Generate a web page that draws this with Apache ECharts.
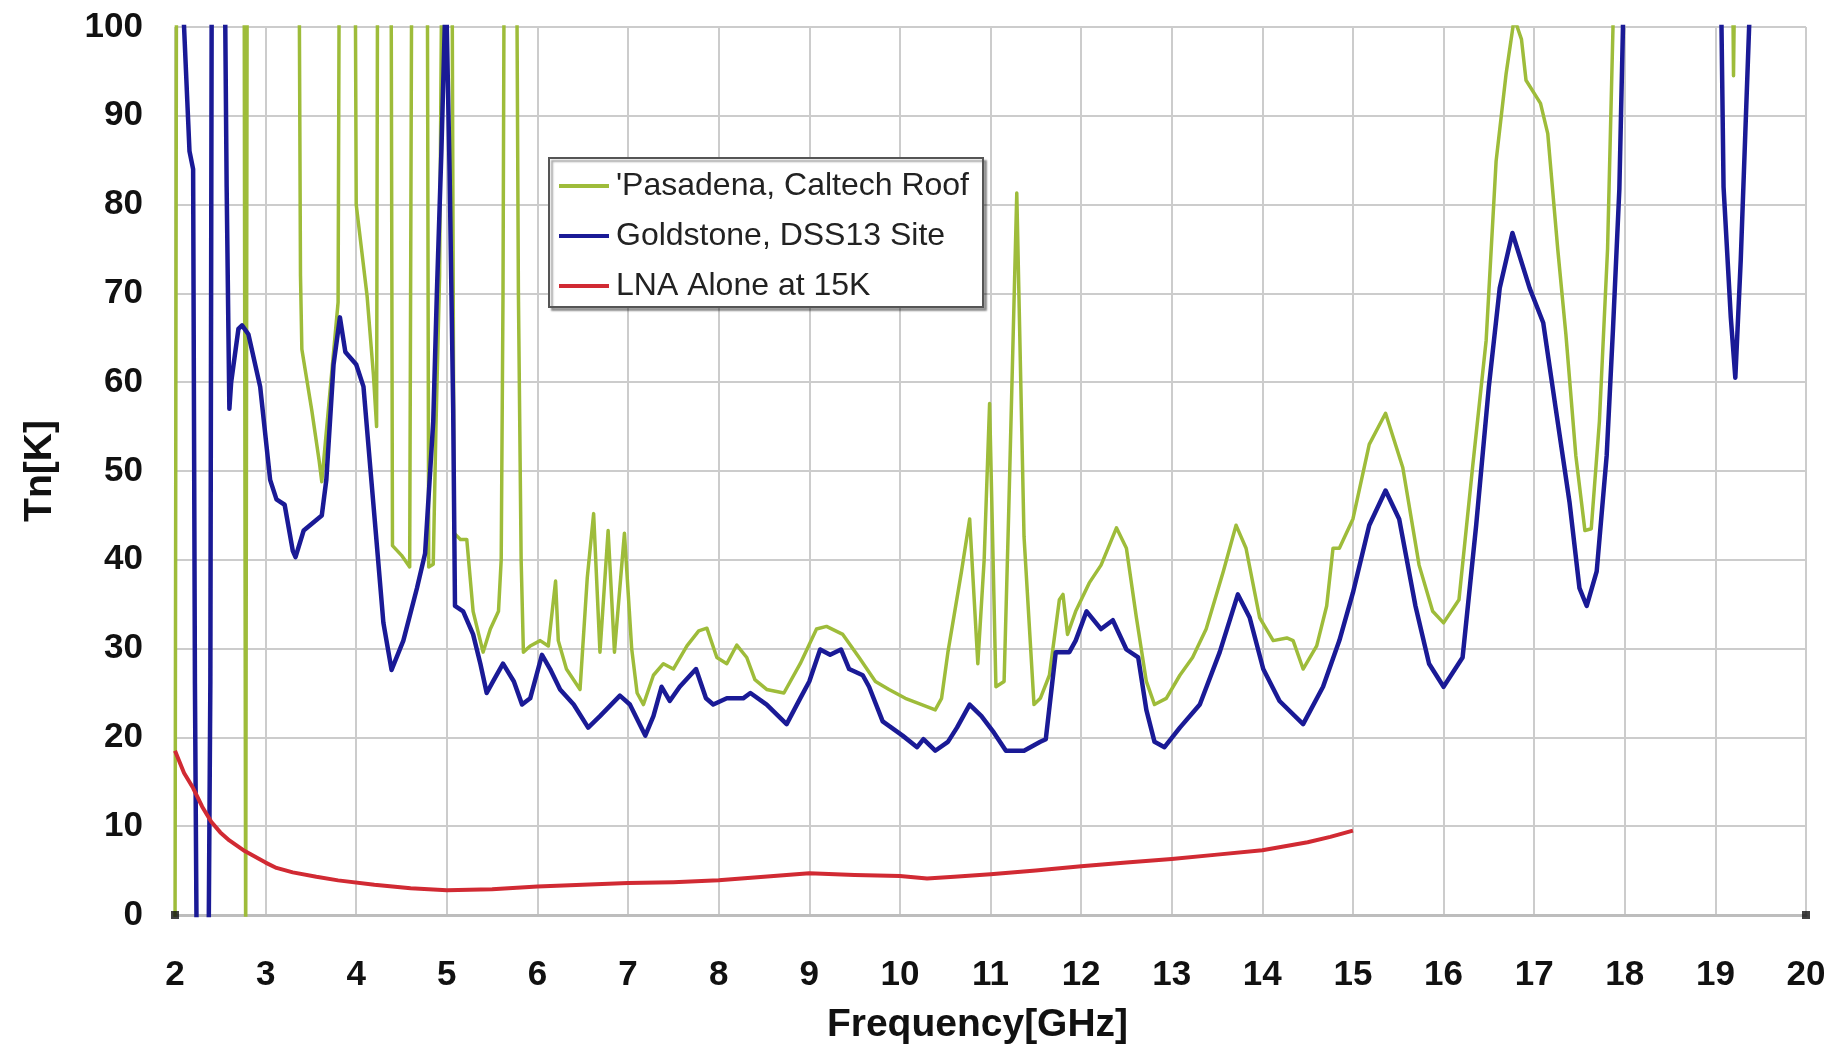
<!DOCTYPE html>
<html>
<head>
<meta charset="utf-8">
<script src="https://cdn.jsdelivr.net/npm/echarts@6/dist/echarts.min.js"></script>
<style>
  html, body { margin: 0; padding: 0; background: #ffffff; }
  #chart { width: 1833px; height: 1045px; }
</style>
</head>
<body>
<div id="chart"></div>
<script>
// Frequency in GHz, noise temperature Tn in K (values > 100 or < 0 are off-scale in the original)
const seriesNames = ["'Pasadena, Caltech Roof", "Goldstone, DSS13 Site", "LNA Alone at 15K"];

const pasadena = [
  [2.00,-5],[2.02,130],[2.76,130],[2.78,-5],[2.80,130],
  [3.36,130],[3.385,72],[3.40,63.7],[3.51,56.8],[3.59,51.2],[3.62,48.8],[3.72,60],[3.80,69],[3.82,130],
  [3.98,130],[4.00,80],[4.12,69.7],[4.19,60.8],[4.225,55],[4.24,130],
  [4.38,130],[4.40,41.6],[4.50,40.5],[4.59,39.2],[4.62,130],
  [4.78,130],[4.80,39.2],[4.85,39.5],[4.88,55],[4.92,72],[4.96,130],
  [5.05,130],[5.08,43],[5.15,42.3],[5.22,42.3],[5.29,34.2],[5.40,29.6],[5.48,32.2],[5.57,34.2],[5.60,40],[5.62,70],[5.64,130],
  [5.76,130],[5.79,70],[5.82,40],[5.845,29.6],[5.92,30.3],[6.03,30.9],[6.12,30.3],[6.20,37.6],[6.23,30.9],[6.32,27.7],
  [6.47,25.4],[6.55,38],[6.62,45.2],[6.69,29.6],[6.78,43.3],[6.85,29.6],[6.96,43],[7.04,30],[7.10,25],[7.17,23.7],
  [7.28,27],[7.39,28.3],[7.50,27.7],[7.65,30.3],[7.78,32],[7.87,32.3],[7.98,29],[8.09,28.3],[8.20,30.4],[8.31,29],
  [8.40,26.5],[8.53,25.4],[8.72,25],[8.90,28.3],[9.08,32.2],[9.19,32.5],[9.37,31.6],[9.55,29],[9.73,26.3],[9.88,25.4],
  [10.06,24.4],[10.24,23.7],[10.39,23.1],[10.46,24.4],[10.53,29.6],[10.68,38.7],[10.77,44.6],[10.86,28.3],[10.93,40],
  [10.99,57.6],[11.06,25.7],[11.15,26.3],[11.20,45],[11.29,81.3],[11.37,42.6],[11.48,23.7],[11.55,24.4],[11.65,27],
  [11.76,35.5],[11.80,36.1],[11.85,31.6],[11.94,34.2],[12.09,37.4],[12.22,39.4],[12.39,43.6],[12.50,41.3],[12.61,33.5],
  [12.72,26.3],[12.81,23.7],[12.94,24.4],[13.09,27],[13.23,29],[13.38,32.2],[13.57,38.7],[13.71,43.9],[13.82,41.3],
  [13.97,33.5],[14.12,30.9],[14.27,31.2],[14.34,30.9],[14.45,27.7],[14.60,30.3],[14.71,34.8],[14.78,41.3],[14.85,41.3],
  [15.00,44.6],[15.18,53],[15.36,56.5],[15.55,50.4],[15.73,39.4],[15.88,34.2],[16.00,32.9],[16.17,35.5],[16.32,50.4],
  [16.47,64.7],[16.58,84.9],[16.69,94.7],[16.78,101],[16.86,98.6],[16.91,94],[17.07,91.4],[17.15,88],[17.26,75],
  [17.35,65.4],[17.46,51.7],[17.56,43.3],[17.63,43.5],[17.72,55.6],[17.81,75],[17.87,100],[17.90,130],
  [19.17,130],[19.20,94.5],[19.24,130],[20.00,130]
];

const goldstone = [
  [2.00,130],[2.10,100],[2.16,86],[2.20,84],[2.22,26],[2.24,-5],[2.37,-5],[2.39,26],[2.41,130],
  [2.53,130],[2.57,82],[2.60,57],[2.62,60],[2.70,66],[2.74,66.4],[2.81,65.4],[2.94,59.5],[3.05,49],[3.12,46.8],
  [3.21,46.2],[3.30,41],[3.33,40.3],[3.42,43.3],[3.62,45],[3.67,49],[3.75,62],[3.82,67.3],[3.88,63.4],[4.00,62],
  [4.08,59.5],[4.15,51],[4.22,42.6],[4.30,32.9],[4.39,27.6],[4.52,30.9],[4.67,36.8],[4.76,40.7],[4.85,55.6],
  [4.89,70],[4.94,86],[4.99,105],[5.03,84],[5.07,57],[5.09,34.8],[5.18,34.2],[5.29,31.6],[5.37,28.3],[5.44,25],
  [5.51,26.3],[5.62,28.3],[5.74,26.3],[5.83,23.7],[5.92,24.4],[6.05,29.3],[6.14,27.7],[6.25,25.4],[6.40,23.7],
  [6.56,21.1],[6.69,22.4],[6.91,24.7],[7.02,23.7],[7.19,20.2],[7.28,22.4],[7.37,25.7],[7.46,24.1],[7.57,25.7],
  [7.75,27.7],[7.86,24.4],[7.94,23.7],[8.09,24.4],[8.27,24.4],[8.35,25],[8.53,23.7],[8.75,21.5],[8.90,24.4],
  [9.00,26.3],[9.12,29.9],[9.23,29.3],[9.35,29.9],[9.44,27.7],[9.59,27],[9.66,25.7],[9.81,21.8],[10.03,20.2],
  [10.19,18.9],[10.26,19.8],[10.39,18.5],[10.53,19.5],[10.63,21.1],[10.77,23.7],[10.90,22.4],[11.04,20.5],
  [11.17,18.5],[11.37,18.5],[11.55,19.5],[11.61,19.8],[11.72,29.6],[11.87,29.6],[11.94,30.9],[12.06,34.2],
  [12.22,32.2],[12.35,33.2],[12.50,29.9],[12.63,29],[12.72,23.1],[12.81,19.5],[12.92,18.9],[13.09,21.1],
  [13.31,23.7],[13.53,29.6],[13.73,36.1],[13.86,33.5],[14.01,27.7],[14.19,24.1],[14.45,21.5],[14.67,25.7],
  [14.85,30.9],[15.00,36.3],[15.18,43.9],[15.36,47.8],[15.51,44.6],[15.69,34.8],[15.84,28.3],[16.00,25.7],
  [16.21,29],[16.36,43.9],[16.50,59.5],[16.62,70.6],[16.76,76.8],[16.95,70.6],[17.10,66.7],[17.24,56.9],
  [17.39,46.5],[17.50,36.8],[17.58,34.8],[17.69,38.7],[17.80,51.7],[17.87,66],[17.94,81.7],[17.98,100],[18.00,130],
  [19.03,130],[19.09,82],[19.17,67.3],[19.22,60.5],[19.28,73.8],[19.33,88],[19.39,105],[20.00,130]
];

const lna = [
  [2.0,18.5],[2.1,16],[2.2,14.3],[2.3,12.2],[2.4,10.5],[2.5,9.3],[2.6,8.4],[2.77,7.2],[3.0,5.9],[3.12,5.3],
  [3.3,4.8],[3.56,4.3],[3.8,3.9],[4.2,3.4],[4.6,3.0],[5.0,2.8],[5.5,2.9],[6.0,3.2],[6.5,3.4],[7.0,3.6],
  [7.5,3.7],[8.0,3.9],[8.5,4.3],[9.0,4.7],[9.5,4.5],[10.0,4.4],[10.3,4.1],[10.6,4.3],[11.0,4.6],[11.5,5.0],
  [12.0,5.5],[12.5,5.9],[13.0,6.3],[13.5,6.8],[14.0,7.3],[14.5,8.2],[14.75,8.8],[15.0,9.5]
];

const axisCorners = [[2, 0], [20, 0]];

const chart = echarts.init(document.getElementById('chart'), null, { renderer: 'canvas' });
const font = 'Liberation Sans';

chart.setOption({
  animation: false,
  backgroundColor: '#ffffff',
  grid: { left: 175, right: 27, top: 27, bottom: 130, containLabel: false, outerBoundsMode: 'none' },
  legend: {
    data: seriesNames,
    orient: 'vertical',
    left: 549,
    top: 158,
    padding: [12, 14, 5, 10],
    itemGap: 18,
    itemWidth: 50,
    itemHeight: 4,
    icon: 'rect',
    backgroundColor: '#ffffff',
    borderColor: '#555555',
    borderWidth: 2,
    shadowColor: 'rgba(0,0,0,0.35)',
    shadowBlur: 2,
    shadowOffsetX: 3,
    shadowOffsetY: 3,
    textStyle: { fontFamily: font, fontSize: 32, color: '#222222', padding: [0, 0, 0, 2] }
  },
  xAxis: {
    type: 'value',
    min: 2, max: 20, interval: 1,
    name: 'Frequency[GHz]',
    nameLocation: 'middle',
    nameGap: 91,
    nameTextStyle: { fontFamily: font, fontWeight: 'bold', fontSize: 39, color: '#111111', padding: [0, 26, 0, 0] },
    axisLine: { show: true, lineStyle: { color: '#bdbdbd', width: 3 } },
    axisTick: { show: false },
    axisLabel: { fontFamily: font, fontWeight: 'bold', fontSize: 35, color: '#111111', margin: 43 },
    splitLine: { show: true, lineStyle: { color: '#cccccc', width: 2 } }
  },
  yAxis: {
    type: 'value',
    min: 0, max: 100, interval: 10,
    name: 'Tn[K]',
    nameLocation: 'middle',
    nameGap: 115,
    nameTextStyle: { fontFamily: font, fontWeight: 'bold', fontSize: 39, color: '#111111' },
    axisLine: { show: false },
    axisTick: { show: false },
    axisLabel: { fontFamily: font, fontWeight: 'bold', fontSize: 35, color: '#111111', margin: 32 },
    splitLine: { show: true, lineStyle: { color: '#cccccc', width: 2 } }
  },
  series: [
    {
      name: seriesNames[0], type: 'line', data: pasadena, showSymbol: false, symbol: 'none',
      clip: true, color: '#9ebc3a',
      lineStyle: { color: '#9ebc3a', width: 3.5, join: 'round' }
    },
    {
      name: seriesNames[1], type: 'line', data: goldstone, showSymbol: false, symbol: 'none',
      clip: true, color: '#1a1a96',
      lineStyle: { color: '#1a1a96', width: 4.5, join: 'round' }
    },
    {
      name: seriesNames[2], type: 'line', data: lna, showSymbol: false, symbol: 'none',
      clip: true, color: '#d12a33',
      lineStyle: { color: '#d12a33', width: 4, join: 'round' }
    },
    {
      name: 'corners', type: 'scatter', data: axisCorners, symbol: 'rect', symbolSize: 8,
      itemStyle: { color: '#111111' }, silent: true, clip: false, z: 5
    }
  ]
});
</script>
</body>
</html>
